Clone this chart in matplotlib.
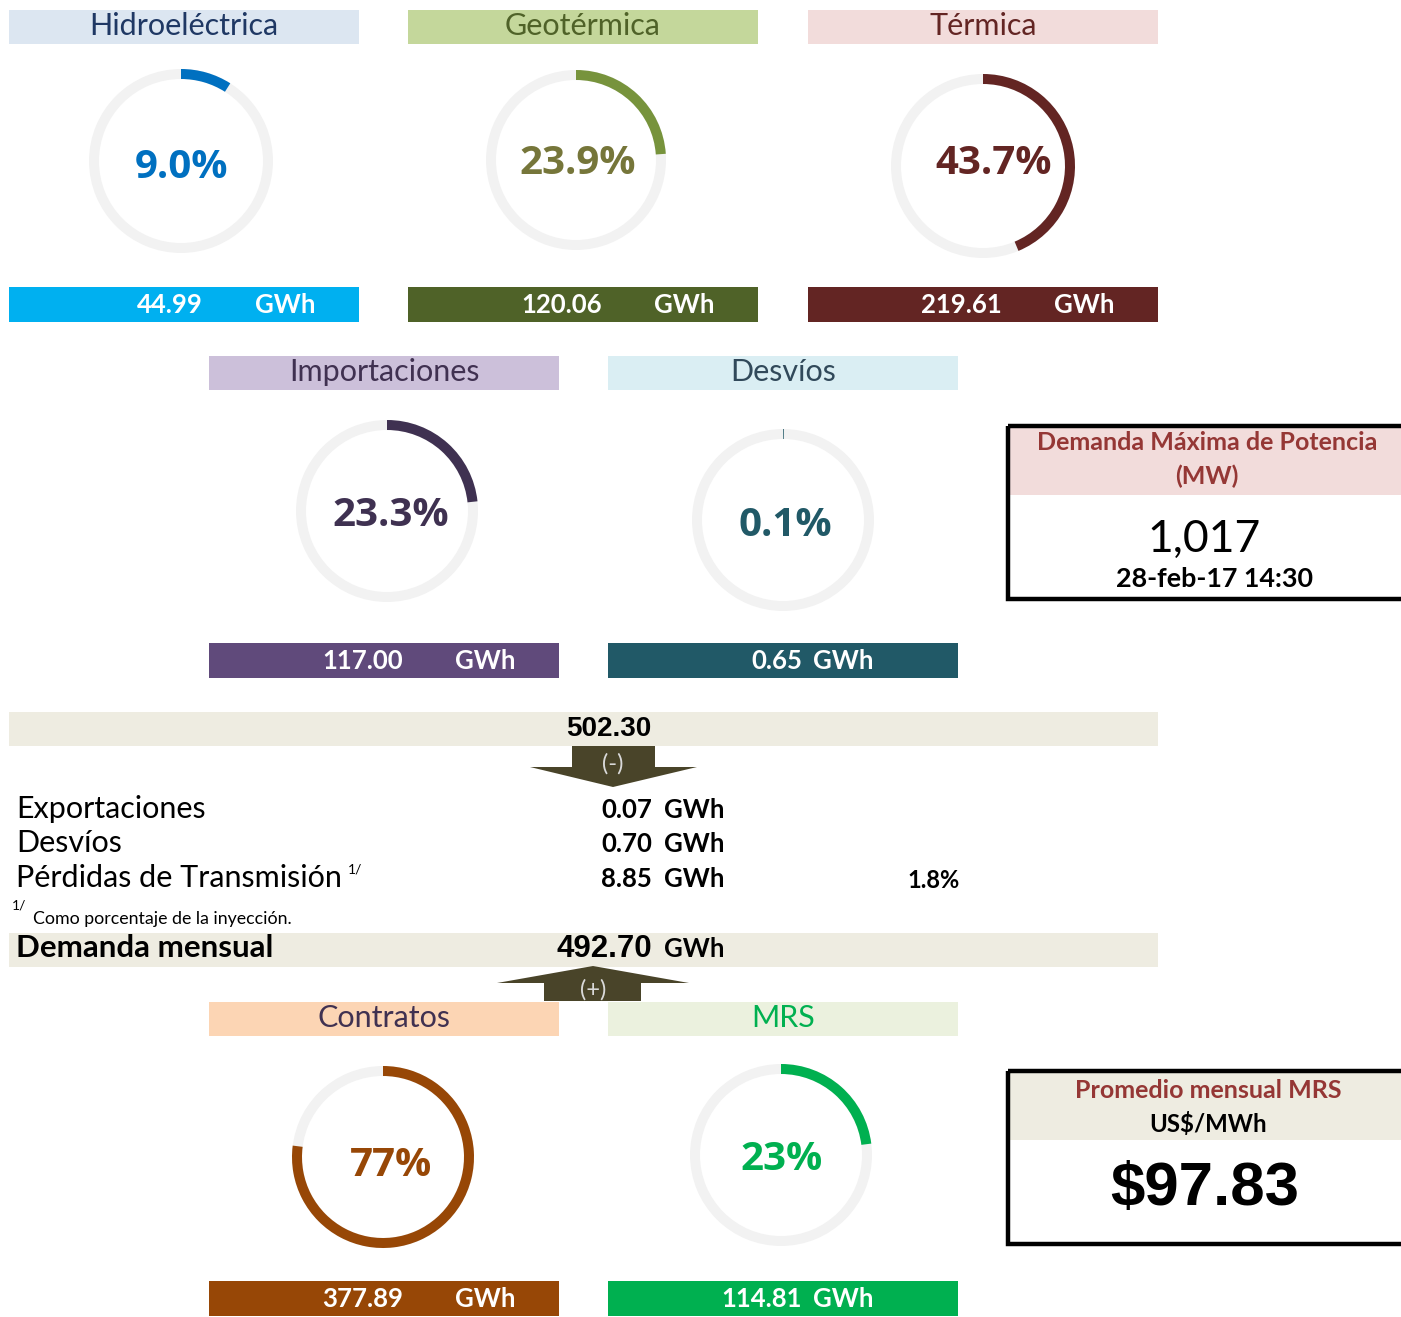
import matplotlib.pyplot as plt
from matplotlib.patches import Rectangle, Wedge, Polygon

# data
names = ['Hidroeléctrica', 'Geotérmica', 'Térmica', 'Importaciones', 'Desvíos', 'Contratos', 'MRS']
shares = [9.0, 23.9, 43.7, 23.3, 0.1, 77, 23]
share_labels = ['9.0%', '23.9%', '43.7%', '23.3%', '0.1%', '77%', '23%']
gwh = ['44.99', '120.06', '219.61', '117.00', '0.65', '377.89', '114.81']

injection_total = '502.30'
loss_names = ['Exportaciones', 'Desvíos', 'Pérdidas de Transmisión']
loss_values = ['0.07', '0.70', '8.85']
loss_pct = '1.8%'
monthly_demand = '492.70'
max_power = '1,017'
max_power_date = '28-feb-17 14:30'
mrs_price = '$97.83'

# layout / style (pixels)
panel_x = [9, 408, 808, 209, 608, 209, 608]
head_y = [10, 10, 10, 356, 356, 1002, 1002]
bar_y = [287, 287, 287, 643, 643, 1281, 1281]
ring_c = [(181, 161), (576, 160), (983, 166), (387, 511), (783, 520), (383, 1157), (781, 1155)]
ring_r = [92, 90, 92, 91, 91, 91, 91]
pct_dx = [1, 2, 11, 4, 2, 8, 1]
pct_dy = [7, 3, -3, 5, 5, 8, 4]
unit_gap = [52, 52, 52, 52, 11, 52, 11]
head_bg = ['#DCE6F1', '#C4D79B', '#F2DCDB', '#CCC0DA', '#DAEEF3', '#FCD5B4', '#EBF1DE']
head_fg = ['#1F3864', '#4F6228', '#632523', '#403151', '#31495A', '#403151', '#00B050']
ring_col = ['#0070C0', '#77933C', '#632523', '#3F3151', '#215967', '#974706', '#00B050']
pct_col = ['#0070C0', '#76763A', '#632523', '#3F3151', '#215967', '#974706', '#00B050']
bar_col = ['#00B0F0', '#4F6228', '#632523', '#604A7B', '#215967', '#974706', '#00B050']

W, H = 1401, 1317
fig = plt.figure(figsize=(W / 100, H / 100), dpi=100)
ax = fig.add_axes([0, 0, 1, 1])
ax.set_xlim(0, W)
ax.set_ylim(H, 0)
ax.axis('off')

CAL = ['Lato', 'DejaVu Sans']
NUM = ['Open Sans', 'DejaVu Sans']
ARI = ['Liberation Sans', 'DejaVu Sans']
PW = 350
beige = '#EEECE1'

for i in range(len(names)):
    x0 = panel_x[i]
    ax.add_patch(Rectangle((x0, head_y[i]), PW, 34, color=head_bg[i], lw=0))
    ax.text(x0 + PW / 2, head_y[i] + 16, names[i], ha='center', va='center',
            fontsize=22, color=head_fg[i], family=CAL)
    cx, cy = ring_c[i]
    r = ring_r[i]
    ax.add_patch(Wedge((cx, cy), r, 0, 360, width=10, color='#F2F2F2', lw=0))
    span = 360 * shares[i] / 100
    ax.add_patch(Wedge((cx, cy), r, -90, -90 + max(span, 0.5), width=10,
                       color=ring_col[i], lw=0))
    ax.text(cx + pct_dx[i], cy + pct_dy[i], share_labels[i], ha='center', va='center',
            fontsize=29, fontweight='bold', color=pct_col[i], family=NUM)
    ax.add_patch(Rectangle((x0, bar_y[i]), PW, 35, color=bar_col[i], lw=0))
    ax.text(x0 + 194, bar_y[i] + 18, gwh[i], ha='right', va='center', fontsize=18.5,
            fontweight='bold', color='white', family=CAL)
    ax.text(x0 + 194 + unit_gap[i], bar_y[i] + 18, 'GWh', ha='left', va='center',
            fontsize=18.5, fontweight='bold', color='white', family=CAL)

# injection band and down arrow
ax.add_patch(Rectangle((9, 712), 1149, 34, color=beige, lw=0))
ax.text(609, 729, injection_total, ha='center', va='center', fontsize=20,
        fontweight='bold', color='black', family=ARI)
ax.add_patch(Polygon([(572, 746), (655, 746), (655, 767), (697, 767), (613, 787),
                      (530, 767), (572, 767)], closed=True, color='#494429', lw=0))
ax.text(613, 764, '(-)', ha='center', va='center', fontsize=17, color='#D9D9D9', family=CAL)

# losses
row_y = [808, 842, 877]
for k in range(len(loss_names)):
    ax.text(16, row_y[k] + 1, loss_names[k], ha='left', va='center', fontsize=22,
            color='black', family=CAL)
    ax.text(652, row_y[k] + 2, loss_values[k], ha='right', va='center', fontsize=18.5,
            fontweight='bold', color='black', family=CAL)
    ax.text(664, row_y[k] + 2, 'GWh', ha='left', va='center', fontsize=18.5,
            fontweight='bold', color='black', family=CAL)
ax.text(348, 870, '1/', ha='left', va='center', fontsize=10, color='black', family=CAL)
ax.text(960, 881, loss_pct, ha='right', va='center', fontsize=17, fontweight='bold',
        color='black', family=CAL)
ax.text(12, 906, '1/', ha='left', va='center', fontsize=10, color='black', family=CAL)
ax.text(33, 919, 'Como porcentaje de la inyección.', ha='left', va='center',
        fontsize=12.8, color='black', family=CAL)

# monthly demand band and up arrow
ax.add_patch(Rectangle((9, 933), 1149, 34, color=beige, lw=0))
ax.text(16, 948, 'Demanda mensual', ha='left', va='center', fontsize=22.5,
        fontweight='bold', color='black', family=CAL)
ax.text(652, 949, monthly_demand, ha='right', va='center', fontsize=22.5,
        fontweight='bold', color='black', family=ARI)
ax.text(664, 949, 'GWh', ha='left', va='center', fontsize=18.5,
        fontweight='bold', color='black', family=CAL)
ax.add_patch(Polygon([(593, 966), (689, 983), (641, 983), (641, 1001), (544, 1001),
                      (544, 983), (497, 983)], closed=True, color='#494429', lw=0))
ax.text(593, 990, '(+)', ha='center', va='center', fontsize=17, color='#D9D9D9', family=CAL)

# max power box
ax.add_patch(Rectangle((1008, 427), 400, 68, color='#F2DCDB', lw=0))
ax.add_patch(Rectangle((1008, 426), 400, 173, fill=False, ec='black', lw=3.2))
ax.text(1207, 443, 'Demanda Máxima de Potencia', ha='center', va='center', fontsize=18,
        fontweight='bold', color='#953735', family=CAL)
ax.text(1207, 476, '(MW)', ha='center', va='center', fontsize=18,
        fontweight='bold', color='#953735', family=CAL)
ax.text(1204, 539, max_power, ha='center', va='center', fontsize=32, color='black',
        family=CAL)
ax.text(1214, 579, max_power_date, ha='center', va='center', fontsize=19.4,
        fontweight='bold', color='black', family=CAL)

# MRS price box
ax.add_patch(Rectangle((1008, 1072), 400, 68, color=beige, lw=0))
ax.add_patch(Rectangle((1008, 1071), 400, 173, fill=False, ec='black', lw=3.2))
ax.text(1208, 1090, 'Promedio mensual MRS', ha='center', va='center', fontsize=18,
        fontweight='bold', color='#953735', family=CAL)
ax.text(1208, 1124, 'US$/MWh', ha='center', va='center', fontsize=17.3,
        fontweight='bold', color='black', family=CAL)
ax.text(1205, 1189, mrs_price, ha='center', va='center', fontsize=44.5,
        fontweight='bold', color='black', family=ARI)

fig.savefig('out.png', dpi=100)
